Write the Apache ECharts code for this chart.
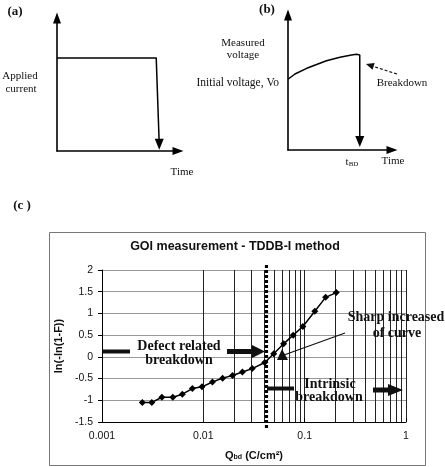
<!DOCTYPE html>
<html>
<head>
<meta charset="utf-8">
<script src="https://cdn.jsdelivr.net/npm/echarts@6/dist/echarts.min.js"></script>
<style>
html,body{margin:0;padding:0;background:#fff}
#main{width:445px;height:467px}
</style>
</head>
<body>
<div id="main"></div>
<script>
// (a) applied current, schematic
var aTime = [0, 8.2, 8.45];
var aCurrent = [7, 7, 0.5];
// (b) measured voltage, schematic
var bTime = [0, 0.67, 1.8, 3.7, 5.0, 6.1, 6.6, 6.9, 6.9];
var bVoltage = [5.24, 5.63, 6.05, 6.61, 6.87, 7.04, 7.09, 7.04, 0.63];
// (c) GOI Weibull plot
var qbd = [0.0025, 0.0031, 0.0039, 0.005, 0.0062, 0.0078, 0.0097, 0.0123, 0.0155, 0.0194,
  0.0243, 0.0304, 0.0404, 0.0495, 0.062, 0.077, 0.096, 0.126, 0.161, 0.205];
var lnF = [-1.05, -1.05, -0.93, -0.93, -0.86, -0.73, -0.69, -0.58, -0.49, -0.43,
  -0.35, -0.27, -0.13, 0.07, 0.30, 0.50, 0.70, 1.05, 1.37, 1.48];
var xTickLabels = ['0.001', '0.01', '0.1', '1'];
var yMin = -1.5, yMax = 2, yStep = 0.5;
var minorSteps = [2, 3, 4, 5, 6, 7, 8, 9];
var decades = [0.001, 0.01, 0.1];
var breakdownQ = 0.042;

var serif = '"Liberation Serif", "Times New Roman", serif';
var sans = '"Liberation Sans", Arial, sans-serif';

var minorLines = [];
decades.forEach(function (d) {
  minorSteps.forEach(function (k) { minorLines.push({ xAxis: +(d * k).toPrecision(3) }); });
});

function pts(xs, ys, arrowSize) {
  return xs.map(function (x, i) {
    if (i === xs.length - 1) {
      return { value: [x, ys[i]], symbol: 'triangle', symbolRotate: 180, symbolSize: arrowSize };
    }
    return { value: [x, ys[i]], symbol: 'none' };
  });
}

function blockArrow(x0, x1, y, head, shaftH, headH) {
  return [[x0, y - shaftH / 2], [x1 - head, y - shaftH / 2], [x1 - head, y - headH / 2], [x1, y],
    [x1 - head, y + headH / 2], [x1 - head, y + shaftH / 2], [x0, y + shaftH / 2]];
}

function txt(s, x, y, font, align) {
  return { type: 'text', z: 100, silent: true,
    style: { text: s, x: x, y: y, font: font, fill: '#111', align: align || 'center', verticalAlign: 'middle' } };
}

var schematicAxis = function (max) {
  return {
    type: 'value', min: 0, max: max,
    axisLine: { show: true, onZero: false, symbol: ['none', 'triangle'], symbolSize: [8, 11],
      lineStyle: { color: '#000', width: 1.6 } },
    axisTick: { show: false }, axisLabel: { show: false }, splitLine: { show: false }
  };
};

var chart = echarts.init(document.getElementById('main'));
var option = {
  animation: false,
  grid: [
    { left: 57, top: 18, width: 121, height: 133 },
    { left: 288, top: 15, width: 104, height: 135 },
    { left: 102, top: 270, right: 39, bottom: 45 },
    { left: 102, top: 263, right: 39, bottom: 39 }
  ],
  xAxis: [
    Object.assign(schematicAxis(10), { gridIndex: 0 }),
    Object.assign(schematicAxis(10), { gridIndex: 1 }),
    {
      gridIndex: 2, type: 'log', logBase: 10, min: 0.001, max: 1,
      axisLine: { show: true, onZero: false, lineStyle: { color: '#000', width: 1 } },
      axisTick: { show: true, inside: true, length: 4, lineStyle: { color: '#000' } },
      axisLabel: { fontSize: 10.5, fontFamily: sans, color: '#111', margin: 9,
        formatter: function (v) { return xTickLabels[Math.round(Math.log10(v)) + 3]; } },
      splitLine: { show: true, lineStyle: { color: '#222', width: 1 } },
      name: '{b|Q}{s|bd}{b| (C/cm²)}', nameLocation: 'middle', nameGap: 28,
      nameTextStyle: { rich: {
        b: { fontSize: 11, fontWeight: 'bold', fontFamily: sans, color: '#111', verticalAlign: 'bottom' },
        s: { fontSize: 7, fontWeight: 'bold', fontFamily: sans, color: '#111', verticalAlign: 'bottom' }
      } }
    },
    { gridIndex: 3, type: 'log', logBase: 10, min: 0.001, max: 1, show: false }
  ],
  yAxis: [
    Object.assign(schematicAxis(10), { gridIndex: 0 }),
    Object.assign(schematicAxis(10), { gridIndex: 1 }),
    {
      gridIndex: 2, type: 'value', min: yMin, max: yMax, interval: yStep,
      axisLine: { show: true, lineStyle: { color: '#000', width: 1 } },
      axisTick: { show: true, length: 4, lineStyle: { color: '#000' } },
      axisLabel: { fontSize: 10.5, fontFamily: sans, color: '#111', margin: 9 },
      splitLine: { show: true, lineStyle: { color: '#999', width: 1 } },
      name: 'ln(-ln(1-F))', nameLocation: 'middle', nameGap: 26,
      nameTextStyle: { fontSize: 11, fontWeight: 'bold', fontFamily: sans, color: '#111' }
    },
    { gridIndex: 3, type: 'value', min: 0, max: 1, show: false }
  ],
  series: [
    {
      type: 'line', xAxisIndex: 0, yAxisIndex: 0, showAllSymbol: true,
      data: pts(aTime, aCurrent, [9, 11]),
      lineStyle: { color: '#000', width: 1.5 }, itemStyle: { color: '#000' }
    },
    {
      type: 'line', xAxisIndex: 1, yAxisIndex: 1, showAllSymbol: true,
      data: pts(bTime, bVoltage, [9, 11]),
      lineStyle: { color: '#000', width: 1.5 }, itemStyle: { color: '#000' }
    },
    {
      type: 'line', xAxisIndex: 2, yAxisIndex: 2, z: 5,
      data: qbd.map(function (q, i) { return [q, lnF[i]]; }),
      symbol: 'diamond', symbolSize: 7, showAllSymbol: true,
      lineStyle: { color: '#000', width: 1.5 }, itemStyle: { color: '#000' },
      markLine: {
        silent: true, symbol: ['none', 'none'], label: { show: false }, z: 1,
        lineStyle: { color: '#222', width: 1, type: 'solid' },
        data: minorLines
      }
    },
    {
      type: 'line', xAxisIndex: 3, yAxisIndex: 3, symbol: 'none', z: 6,
      data: [[breakdownQ, 0], [breakdownQ, 1]],
      lineStyle: { color: '#000', width: 3.2, type: [3, 2] }
    }
  ],
  graphic: [
    { type: 'rect', z: 0, silent: true, shape: { x: 49.5, y: 232.5, width: 376, height: 233 },
      style: { fill: 'none', stroke: '#777', lineWidth: 1 } },
    txt('(a)', 15, 12, 'bold 13px ' + serif),
    txt('(b)', 267, 10, 'bold 13px ' + serif),
    txt('(c )', 22, 206, 'bold 13px ' + serif),
    txt('Applied', 20, 76, '11px ' + serif),
    txt('current', 21, 89, '11px ' + serif),
    txt('Time', 182, 172, '11px ' + serif),
    txt('Measured', 243, 43, '11px ' + serif),
    txt('voltage', 243, 55, '11px ' + serif),
    txt('Initial voltage, Vo', 279, 83, '11.5px ' + serif, 'right'),
    txt('Breakdown', 402, 83, '11px ' + serif),
    txt('Time', 393, 161, '11px ' + serif),
    { type: 'text', z: 100, silent: true,
      style: { text: '{t|t}{s|BD}', x: 352, y: 162, align: 'center', verticalAlign: 'middle',
        rich: { t: { font: '11px ' + serif, fill: '#111', verticalAlign: 'bottom' },
                s: { font: '7px ' + serif, fill: '#111', verticalAlign: 'bottom' } } } },
    { type: 'line', z: 100, silent: true, shape: { x1: 397, y1: 74, x2: 372, y2: 66 },
      style: { stroke: '#111', lineWidth: 1.2, lineDash: [3, 2] } },
    { type: 'polygon', z: 100, silent: true, shape: { points: [[366, 64], [374.7, 63.1], [372.5, 69.8]] },
      style: { fill: '#111' } },
    txt('GOI measurement - TDDB-I method', 235, 247, 'bold 12.5px ' + sans),
    txt('Defect related', 179, 346, 'bold 14px ' + serif),
    txt('breakdown', 179, 360, 'bold 14px ' + serif),
    txt('Intrinsic', 330, 384, 'bold 14px ' + serif),
    txt('breakdown', 329, 397, 'bold 14px ' + serif),
    txt('Sharp increased', 396, 317, 'bold 14px ' + serif),
    txt('of curve', 397, 333, 'bold 14px ' + serif),
    { type: 'rect', z: 100, silent: true, shape: { x: 103, y: 349.5, width: 27, height: 4 }, style: { fill: '#111' } },
    { type: 'polygon', z: 100, silent: true, shape: { points: blockArrow(227, 265, 351.5, 13, 5, 13) }, style: { fill: '#111' } },
    { type: 'rect', z: 100, silent: true, shape: { x: 267, y: 386.5, width: 27, height: 4 }, style: { fill: '#111' } },
    { type: 'polygon', z: 100, silent: true, shape: { points: blockArrow(373, 403, 390, 15, 5, 12) }, style: { fill: '#111' } },
    { type: 'line', z: 100, silent: true, shape: { x1: 345, y1: 333, x2: 284, y2: 355 },
      style: { stroke: '#111', lineWidth: 1.2 } },
    { type: 'polygon', z: 100, silent: true, shape: { points: [[277, 360], [288, 360], [282, 349]] }, style: { fill: '#111' } }
  ]
};
chart.setOption(option);
</script>
</body>
</html>
